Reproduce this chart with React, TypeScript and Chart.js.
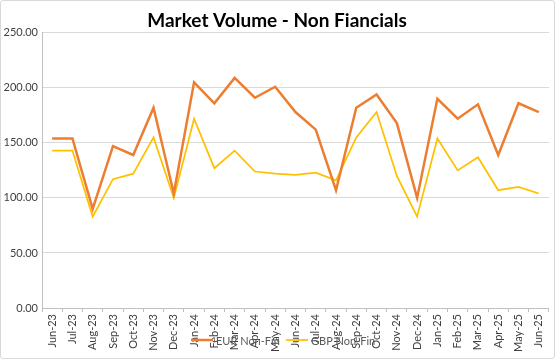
import React, { useEffect, useRef } from "react";
import { Chart, registerables } from "chart.js";

Chart.register(...registerables);

const months = [
  "Jun-23", "Jul-23", "Aug-23", "Sep-23", "Oct-23", "Nov-23", "Dec-23",
  "Jan-24", "Feb-24", "Mar-24", "Apr-24", "May-24", "Jun-24", "Jul-24",
  "Aug-24", "Sep-24", "Oct-24", "Nov-24", "Dec-24",
  "Jan-25", "Feb-25", "Mar-25", "Apr-25", "May-25", "Jun-25",
];

const eurNonFin = [
  154, 154, 90, 147, 139, 182, 104,
  205, 186, 209, 191, 201, 178, 162,
  107, 182, 194, 168, 100,
  190, 172, 185, 139, 186, 178,
];

const gbpNonFin = [
  143, 143, 83, 117, 122, 155, 100,
  172, 127, 143, 124, 122, 121, 123,
  116, 155, 178, 120, 83,
  154, 125, 137, 107, 110, 104,
];

const seriesLabels = ["EUR Non-Fin", "GBP Non-Fin"];
const seriesColors = ["#ED7D31", "#FFC000"];
const titleText = "Market Volume - Non Fiancials";

const FONT = "Lato, 'Open Sans', sans-serif";

const legendPlugin = {
  id: "overlayLegend",
  afterDraw(chart: any) {
    const ctx = chart.ctx;
    const y = 339;
    const starts = [190, 285];
    ctx.save();
    ctx.font = `11px ${FONT}`;
    ctx.textBaseline = "middle";
    ctx.textAlign = "left";
    chart.data.datasets.forEach((ds: any, i: number) => {
      const x = starts[i];
      ctx.strokeStyle = ds.borderColor;
      ctx.lineWidth = ds.borderWidth;
      ctx.beginPath();
      ctx.moveTo(x, y);
      ctx.lineTo(x + 22, y);
      ctx.stroke();
      ctx.fillStyle = "#595959";
      ctx.fillText(ds.label, x + 25, y + 1);
    });
    ctx.restore();
  },
};

export default function App() {
  const ref = useRef<HTMLCanvasElement>(null);

  useEffect(() => {
    if (!ref.current) return;
    const chart = new Chart(ref.current, {
      type: "line",
      data: {
        labels: months,
        datasets: [
          {
            label: seriesLabels[0],
            data: eurNonFin,
            borderColor: seriesColors[0],
            backgroundColor: seriesColors[0],
            borderWidth: 2.5,
            pointRadius: 0,
            tension: 0,
          },
          {
            label: seriesLabels[1],
            data: gbpNonFin,
            borderColor: seriesColors[1],
            backgroundColor: seriesColors[1],
            borderWidth: 1.75,
            pointRadius: 0,
            tension: 0,
          },
        ],
      },
      options: {
        responsive: false,
        animation: false,
        devicePixelRatio: 1,
        layout: { padding: { left: 0, right: 1, top: 0, bottom: 0 } },
        plugins: {
          legend: { display: false },
          tooltip: { enabled: false },
          title: {
            display: true,
            text: titleText,
            color: "#000000",
            font: { family: FONT, size: 19, weight: "bold" },
            padding: { top: 8, bottom: 1 },
          },
        },
        scales: {
          x: {
            offset: true,
            grid: {
              offset: true,
              drawOnChartArea: false,
              drawTicks: true,
              tickLength: 4,
              color: "#bfbfbf",
            },
            border: { display: true, color: "#bfbfbf" },
            ticks: {
              autoSkip: false,
              minRotation: 90,
              maxRotation: 90,
              color: "#404040",
              font: { family: FONT, size: 11 },
              padding: 2,
            },
            afterFit(scale: any) {
              scale.height = 50;
            },
          },
          y: {
            min: 0,
            max: 250,
            grid: { color: "#d9d9d9", drawTicks: false },
            border: { display: true, color: "#bfbfbf" },
            ticks: {
              stepSize: 50,
              color: "#404040",
              font: { family: FONT, size: 11 },
              padding: 4,
              callback: (v: any) => Number(v).toFixed(2),
            },
            afterFit(scale: any) {
              scale.width = 41;
            },
          },
        },
      },
      plugins: [legendPlugin],
    });
    return () => chart.destroy();
  }, []);

  return (
    <div
      style={{
        position: "fixed",
        left: 0,
        top: 0,
        width: 555,
        height: 359,
        boxSizing: "border-box",
        border: "1px solid #d9d9d9",
        borderRadius: 3,
        background: "#ffffff",
        overflow: "hidden",
      }}
    >
      <canvas ref={ref} width={553} height={357} style={{ display: "block" }} />
    </div>
  );
}
